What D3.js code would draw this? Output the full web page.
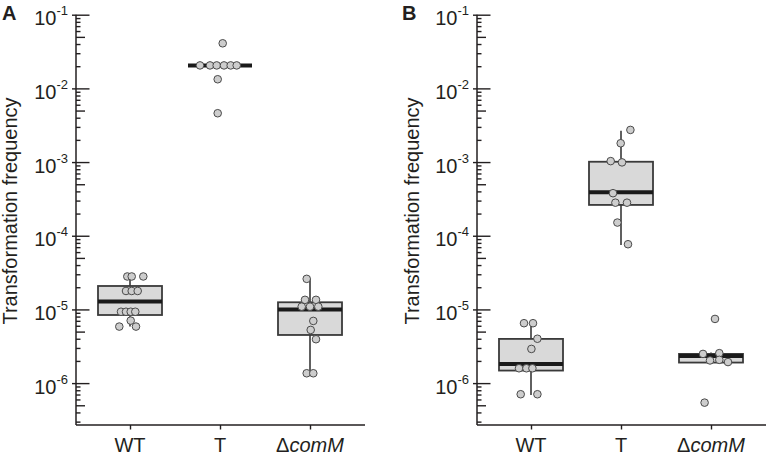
<!DOCTYPE html>
<html><head><meta charset="utf-8">
<script src="https://cdn.jsdelivr.net/npm/d3@7"></script>
<style>body{margin:0;background:#fff} svg{display:block;font-family:"Liberation Sans",Arial,Helvetica,sans-serif}</style>
</head><body><svg id="c" width="766" height="460"></svg>
<script>
// ---------- data ----------
const categories = ["WT", "T", "ΔcomM"];
const yTickExponents = [-1, -2, -3, -4, -5, -6];
const yTitle = "Transformation frequency";

// Panel A box statistics (per category)
const aQ1 = [8.4e-6, 2.05e-2, 4.5e-6];
const aMedian = [1.28e-5, 2.05e-2, 1.0e-5];
const aQ3 = [2.08e-5, 2.05e-2, 1.25e-5];
const aWhiskerLow = [5.85e-6, null, 1.36e-6];
const aWhiskerHigh = [2.8e-5, null, 2.6e-5];
// Panel A points
const aWT = [2.8e-5, 2.8e-5, 2.8e-5, 1.78e-5, 1.78e-5, 1.78e-5, 9.3e-6, 9.3e-6, 9.3e-6, 9.3e-6, 7.05e-6, 5.85e-6, 5.85e-6];
const aT = [4.09e-2, 2.05e-2, 2.05e-2, 2.05e-2, 2.05e-2, 2.05e-2, 2.05e-2, 1.33e-2, 4.6e-3];
const aComM = [2.6e-5, 1.35e-5, 1.35e-5, 1.09e-5, 1.09e-5, 1.09e-5, 6.98e-6, 5.27e-6, 3.94e-6, 1.36e-6, 1.36e-6];

// Panel B box statistics
const bQ1 = [1.48e-6, 2.62e-4, 1.90e-6];
const bMedian = [1.82e-6, 3.89e-4, 2.34e-6];
const bQ3 = [3.98e-6, 1.01e-3, 2.49e-6];
const bWhiskerLow = [6.9e-7, 7.5e-5, null];
const bWhiskerHigh = [6.5e-6, 2.67e-3, 2.6e-6];
// Panel B points
const bWT = [6.5e-6, 6.5e-6, 4.0e-6, 2.91e-6, 1.59e-6, 1.59e-6, 1.59e-6, 7.06e-7, 7.06e-7];
const bT = [2.73e-3, 1.80e-3, 1.03e-3, 0.99e-3, 3.78e-4, 2.81e-4, 2.81e-4, 1.51e-4, 7.67e-5];
const bComM = [7.43e-6, 2.49e-6, 2.55e-6, 2.03e-6, 2.07e-6, 1.93e-6, 5.43e-7];

// horizontal jitter of points (px offsets from category centre) - layout only
const aJitter = [
  [-2.7, 1.7, 13.3, -4, 1.7, 7.7, -9, -4, 0.7, 5.3, 0.7, -10.7, 6],
  [2.7, -20, -10, -3.3, 4, 10.7, 16.7, -2.3, -2.3],
  [-3.3, -5, 6, -8.3, 0, 8.3, 3.3, 0.7, 6, -3.3, 3.3]
];
const bJitter = [
  [-7, 2, 6.4, 0.4, -12, -4.6, 1.4, -10.3, 6.4],
  [9.4, -0.3, -10.3, 1, -8, -5.6, 6, -3.6, 7],
  [4, -8, 8.3, -1, 8.3, 17, -6.4]
];

// ---------- drawing ----------
const svg = d3.select("#c");
const yBottom = 425, yTop = 14.7;
const y = d3.scaleLog().domain([2.7e-7, 0.1]).range([yBottom, yTop]);

const INK = "#231f20";

function drawPanel(opts) {
  const { letter, letterX, axisX, xEnd, titleX, q1, med, q3, wlo, whi, points, jitter } = opts;
  const g = svg.append("g");
  const x = d3.scalePoint().domain(categories).range([axisX + 54, axisX + 234]);
  const bw = 64;

  // y axis with major and minor ticks
  const minor = [];
  for (let e = -7; e <= -2; e++) for (let m = 2; m <= 9; m++) {
    const v = m * Math.pow(10, e);
    if (v >= y.domain()[0] && v <= y.domain()[1]) minor.push(v);
  }
  const majors = yTickExponents.map(e => Math.pow(10, e));
  const yAxis = d3.axisLeft(y).tickValues(majors.concat(minor)).tickSize(0).tickFormat("");
  const ya = g.append("g").attr("transform", `translate(${axisX},0)`).call(yAxis);
  ya.select(".domain").remove();
  ya.selectAll(".tick").each(function (d) {
    const t = d3.select(this);
    const lg = Math.log10(d);
    const isMajor = Math.abs(lg - Math.round(lg)) < 1e-9;
    const mant = Math.round(d / Math.pow(10, Math.floor(lg + 1e-9)));
    let x1 = 0, x2 = 4.5;
    if (isMajor) { x1 = -4; x2 = 13.5; }
    else if (mant === 5) { x2 = 9; }
    t.append("line").attr("x1", x1).attr("x2", x2).attr("stroke", INK).attr("stroke-width", 1.4);
    if (isMajor) {
      const txt = t.append("text").attr("x", -8).attr("y", 0).attr("text-anchor", "end").attr("fill", INK);
      txt.append("tspan").attr("dy", 10).attr("font-size", 20).text("10");
      txt.append("tspan").attr("dy", -10).attr("font-size", 13).text("-" + (-Math.round(lg)));
    }
  });
  // axis lines
  g.append("line").attr("x1", axisX).attr("x2", axisX).attr("y1", y(0.1)).attr("y2", yBottom)
    .attr("stroke", INK).attr("stroke-width", 1.5);

  const xa = g.append("g").attr("transform", `translate(0,${yBottom})`)
    .call(d3.axisBottom(x).tickSize(4.5).tickFormat(""));
  xa.select(".domain").remove();
  xa.selectAll("line").attr("stroke", INK).attr("stroke-width", 1.4);
  g.append("line").attr("x1", axisX).attr("x2", xEnd).attr("y1", yBottom).attr("y2", yBottom)
    .attr("stroke", INK).attr("stroke-width", 1.5);

  // x labels
  categories.forEach(c => {
    const t = g.append("text").attr("x", x(c)).attr("y", 452).attr("text-anchor", "middle")
      .attr("font-size", 20).attr("fill", INK);
    if (c.startsWith("Δ")) {
      t.append("tspan").text("Δ");
      t.append("tspan").attr("font-style", "italic").text(c.slice(1));
    } else t.text(c);
  });

  // title
  g.append("text").attr("transform", `translate(${titleX},211) rotate(-90)`)
    .attr("text-anchor", "middle").attr("font-size", 20).attr("fill", INK).text(yTitle);
  // panel letter
  svg.append("text").attr("x", letterX).attr("y", 20).attr("font-size", 20).attr("font-weight", "bold")
    .attr("fill", INK).text(letter);

  // boxes
  categories.forEach((c, i) => {
    const cx = x(c);
    if (whi[i] != null) g.append("line").attr("x1", cx).attr("x2", cx).attr("y1", y(q3[i])).attr("y2", y(whi[i]))
      .attr("stroke", "#2b2b2b").attr("stroke-width", 1.5);
    if (wlo[i] != null) g.append("line").attr("x1", cx).attr("x2", cx).attr("y1", y(q1[i])).attr("y2", y(wlo[i]))
      .attr("stroke", "#2b2b2b").attr("stroke-width", 1.5);
    g.append("rect").attr("x", cx - bw / 2).attr("y", y(q3[i])).attr("width", bw)
      .attr("height", Math.max(0, y(q1[i]) - y(q3[i])))
      .attr("fill", "#d9d9d9").attr("stroke", "#3a3a3a").attr("stroke-width", 1.8);
    g.append("line").attr("x1", cx - bw / 2).attr("x2", cx + bw / 2).attr("y1", y(med[i])).attr("y2", y(med[i]))
      .attr("stroke", "#1a1a1a").attr("stroke-width", 4);
  });

  // points
  categories.forEach((c, i) => {
    g.selectAll(null).data(points[i]).enter().append("circle")
      .attr("cx", (d, k) => x(c) + jitter[i][k])
      .attr("cy", d => y(d))
      .attr("r", 3.8)
      .attr("fill", "#cdcdcd").attr("stroke", "#4a4a4a").attr("stroke-width", 1);
  });
}

drawPanel({ letter: "A", letterX: 2, axisX: 76, xEnd: 365, titleX: 17,
  q1: aQ1, med: aMedian, q3: aQ3, wlo: aWhiskerLow, whi: aWhiskerHigh,
  points: [aWT, aT, aComM], jitter: aJitter });
drawPanel({ letter: "B", letterX: 402, axisX: 477, xEnd: 766, titleX: 419,
  q1: bQ1, med: bMedian, q3: bQ3, wlo: bWhiskerLow, whi: bWhiskerHigh,
  points: [bWT, bT, bComM], jitter: bJitter });
</script>
</body></html>
